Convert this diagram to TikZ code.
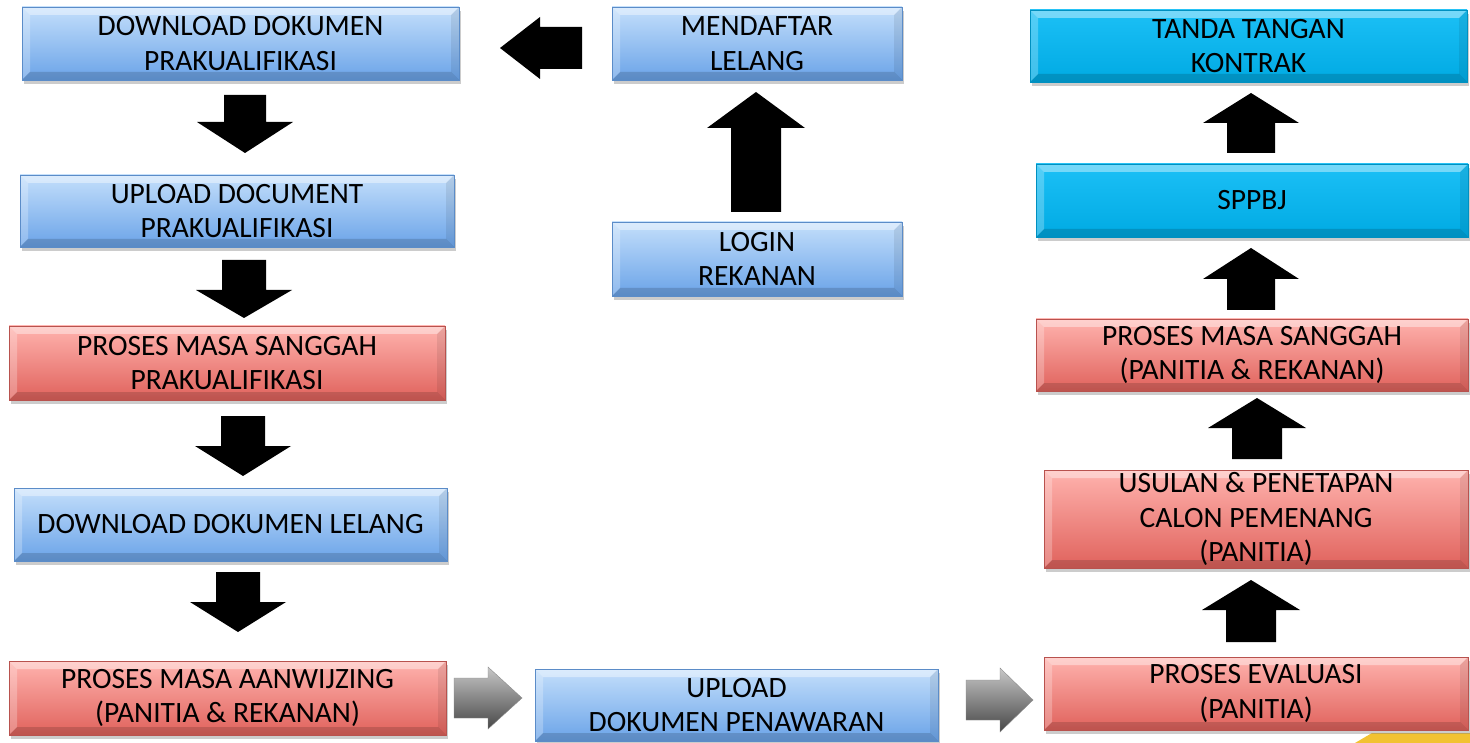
\documentclass[tikz,border=0pt]{standalone}
\usepackage{fontspec}
\setmainfont{Carlito}
\usetikzlibrary{shadows}
\definecolor{bluetop}{HTML}{C4DFFB}
\definecolor{bluebot}{HTML}{6AA3E8}
\definecolor{blueline}{HTML}{5B8CC8}
\definecolor{redtop}{HTML}{FFB3AE}
\definecolor{redbot}{HTML}{E0625C}
\definecolor{redline}{HTML}{B8524E}
\definecolor{cyantop}{HTML}{1CC0F6}
\definecolor{cyanbot}{HTML}{00AAE3}
\definecolor{cyanline}{HTML}{0090C0}
\definecolor{yell}{HTML}{F2C232}
% vertical block arrow: cx, start y, head-base y, tip y, shaft half width, head half width
\newcommand\vblock[7][blk]{\path[#1] (#2-#6,#3) -- (#2+#6,#3) -- (#2+#6,#4) -- (#2+#7,#4) -- (#2,#5) -- (#2-#7,#4) -- (#2-#6,#4) -- cycle;}
% horizontal block arrow: cy, start x, head-base x, tip x, shaft half width, head half width
\newcommand\hblock[7][blk]{\path[#1] (#3,#2-#6) -- (#3,#2+#6) -- (#4,#2+#6) -- (#4,#2+#7) -- (#5,#2) -- (#4,#2-#7) -- (#4,#2-#6) -- cycle;}
\tikzset{
  bevel/.style={path picture={
    \coordinate (nw) at (path picture bounding box.north west);
    \coordinate (ne) at (path picture bounding box.north east);
    \coordinate (sw) at (path picture bounding box.south west);
    \coordinate (se) at (path picture bounding box.south east);
    \fill[white,opacity=0.40] (nw) -- (ne) -- ([xshift=-8pt,yshift=-8pt]ne) -- ([xshift=8pt,yshift=-8pt]nw) -- cycle;
    \fill[white,opacity=0.25] (nw) -- ([xshift=8pt,yshift=-8pt]nw) -- ([xshift=8pt,yshift=8pt]sw) -- (sw) -- cycle;
    \fill[black,opacity=0.08] (ne) -- ([xshift=-8pt,yshift=-8pt]ne) -- ([xshift=-8pt,yshift=8pt]se) -- (se) -- cycle;
    \fill[black,opacity=0.15] (sw) -- ([xshift=8pt,yshift=8pt]sw) -- ([xshift=-8pt,yshift=8pt]se) -- (se) -- cycle;
  }},
  box/.style={inner sep=0pt, align=center, font=\fontsize{29.5}{34.5}\selectfont,
    line width=0.8pt, bevel, drop shadow={opacity=0.4, shadow xshift=1.5pt, shadow yshift=-4pt}},
  bluebox/.style={box, top color=bluetop, bottom color=bluebot, draw=blueline},
  redbox/.style={box, top color=redtop, bottom color=redbot, draw=redline},
  cyanbox/.style={box, top color=cyantop, bottom color=cyanbot, draw=cyanline},
  blk/.style={fill=black},
  gblk/.style={top color=black!22, bottom color=black!72, draw=black!45, line width=0.4pt}
}
\begin{document}
\begin{tikzpicture}[x=1pt,y=-1pt]
\useasboundingbox (0,0) rectangle (1470,743);
\fill[white] (0,0) rectangle (1470,743);
\fill[yell] (1355,743) -- (1372,733) -- (1470,733) -- (1470,743) -- cycle;

% left column
\node[bluebox, minimum width=437pt, minimum height=73pt] (dlpra) at (240.5,43.5) {DOWNLOAD DOKUMEN\\PRAKUALIFIKASI};
\node[bluebox, minimum width=434pt, minimum height=72pt] (ulpra) at (237,211) {UPLOAD DOCUMENT\\PRAKUALIFIKASI};
\node[redbox, minimum width=436pt, minimum height=74pt] (sgpra) at (227,363) {PROSES MASA SANGGAH\\PRAKUALIFIKASI};
\node[bluebox, minimum width=433pt, minimum height=73pt] (dllel) at (230.5,524.5) {DOWNLOAD DOKUMEN LELANG};
\node[redbox, minimum width=437pt, minimum height=74pt] (aanw) at (227.5,698) {PROSES MASA AANWIJZING\\(PANITIA \& REKANAN)};

% middle column
\node[bluebox, minimum width=290pt, minimum height=73pt] (daftar) at (757,43.5) {MENDAFTAR\\LELANG};
\node[bluebox, minimum width=290pt, minimum height=74pt] (login) at (757,259) {LOGIN\\REKANAN};
\node[bluebox, minimum width=403pt, minimum height=72pt] (penaw) at (736.5,705) {UPLOAD\\DOKUMEN PENAWARAN};

% right column
\node[cyanbox, minimum width=437pt, minimum height=72pt] (ttd) at (1248.5,46) {TANDA TANGAN\\KONTRAK};
\node[cyanbox, minimum width=432pt, minimum height=73pt] (sppbj) at (1252,200.5) {SPPBJ};
\node[redbox, minimum width=432pt, minimum height=72pt] (sgpan) at (1252,355) {PROSES MASA SANGGAH\\(PANITIA \& REKANAN)};
\node[redbox, minimum width=424pt, minimum height=98pt] (usul) at (1256,519) {USULAN \& PENETAPAN\\CALON PEMENANG\\(PANITIA)};
\node[redbox, minimum width=424pt, minimum height=73pt] (eval) at (1256,693.5) {PROSES EVALUASI\\(PANITIA)};

% block arrows
\hblock{48}{582}{540}{500}{21}{31}
\vblock{245}{95}{122}{153}{21}{48}
\vblock{244}{260}{290}{318}{22}{48}
\vblock{243}{416}{446}{476}{22}{48}
\vblock{238}{572}{602}{632}{22}{48}
\vblock{756}{212}{128}{92}{25}{49}
\vblock{1251}{153}{123}{93}{24}{48}
\vblock{1251}{310}{279}{248}{24}{48}
\vblock{1257}{459}{428}{398}{25}{49}
\vblock{1251}{642}{610}{580}{25}{49}
\hblock[gblk]{698}{454}{488}{522}{20}{31}
\hblock[gblk]{700}{966}{1000}{1033}{20}{32}
\end{tikzpicture}
\end{document}
